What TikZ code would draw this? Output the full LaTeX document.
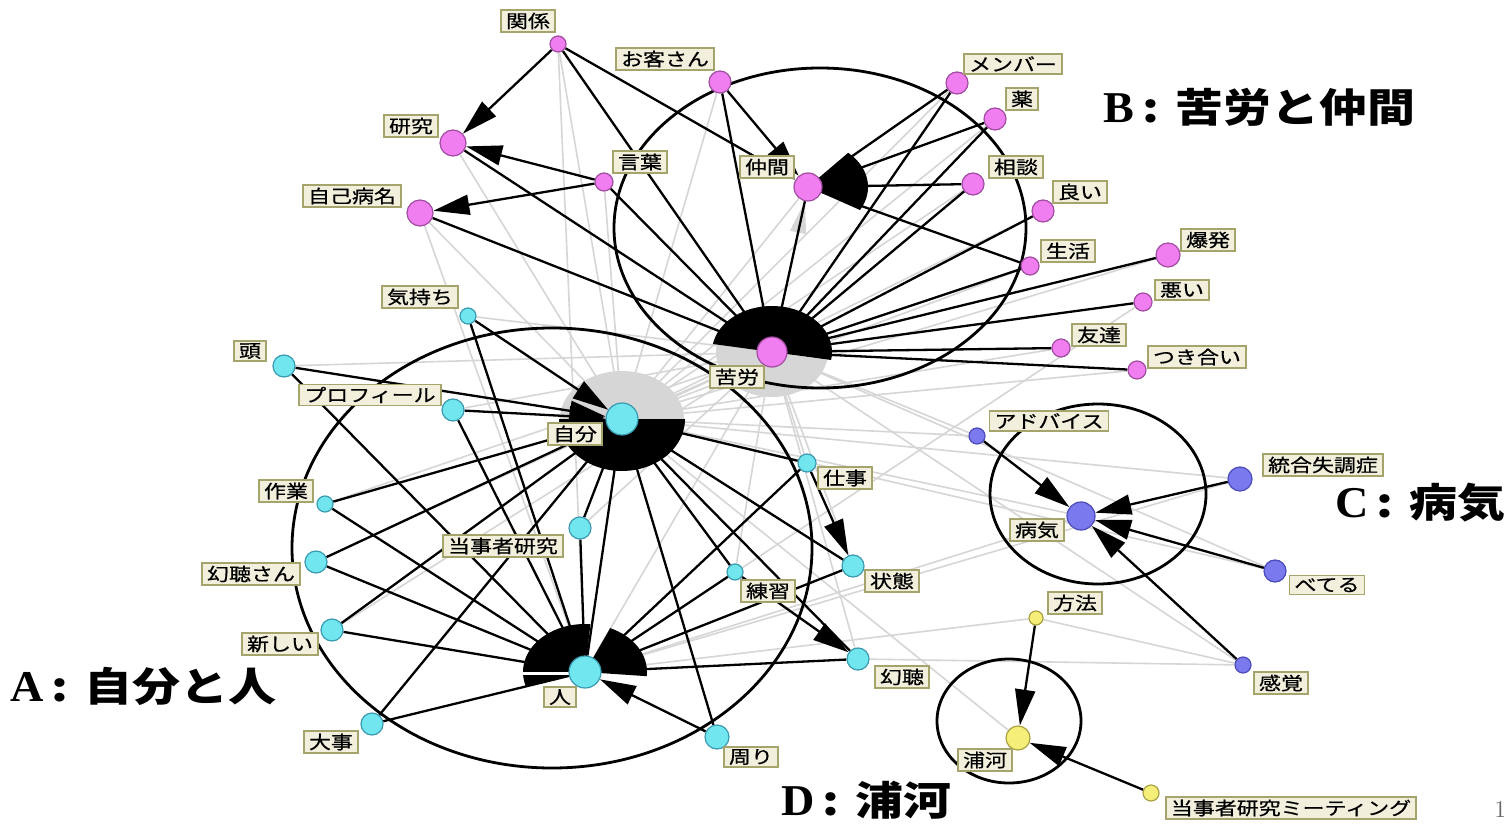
\documentclass[tikz,border=0pt]{standalone}
\usepackage{fontspec}
\usepackage{graphicx}
\usetikzlibrary{arrows.meta,backgrounds}
\newfontfamily\jp{Noto Sans CJK JP}
\newfontfamily\jpm[FakeBold=0.6]{Noto Sans CJK JP}
\newfontfamily\serifb{Liberation Serif}
\definecolor{pkf}{HTML}{F07EF0}
\definecolor{pkd}{HTML}{A04CA0}
\definecolor{cyf}{HTML}{72E6EE}
\definecolor{cyd}{HTML}{3A9AB0}
\definecolor{blf}{HTML}{7A7AEE}
\definecolor{bld}{HTML}{4A4AB8}
\definecolor{yef}{HTML}{F5EE78}
\definecolor{yed}{HTML}{A8A040}
\definecolor{labf}{HTML}{F2F0DC}
\definecolor{labd}{HTML}{A4A46C}
\definecolor{gyc}{HTML}{D6D6D6}
\newcommand\sx[1]{\scalebox{1.22}[1]{#1}}
\newcommand\hd[2]{{\serifb\bfseries\fontsize{22}{22}\selectfont\scalebox{1.05}[1]{#1}}{\jp\bfseries\fontsize{20}{20}\selectfont\scalebox{1.2}[1]{\,:\,\,#2}}}
\newcommand\fan[7]{\fill[#7] (#1,#2) -- plot[domain=#3:#4,samples=40] ({#1+#5*cos(\x)},{#2+#6*sin(\x)}) -- cycle;}
\tikzset{
  pk/.style={circle, fill=pkf, draw=pkd, line width=0.6pt, inner sep=0pt},
  cy/.style={circle, fill=cyf, draw=cyd, line width=0.6pt, inner sep=0pt},
  bl/.style={circle, fill=blf, draw=bld, line width=0.6pt, inner sep=0pt},
  ye/.style={circle, fill=yef, draw=yed, line width=0.6pt, inner sep=0pt},
  lab/.style={fill=labf, draw=labd, line width=0.9pt, inner xsep=2.5pt, inner ysep=1.2pt, font=\jpm\fontsize{9}{10}\selectfont, text=black},
  bk/.style={draw=black, line width=1.15pt},
  bka/.style={bk, -{Triangle[length=18pt,width=10pt]}},
  gy/.style={draw=gyc, line width=0.8pt},
  ring/.style={draw=black, line width=1.4pt},
}
\begin{document}
\begin{tikzpicture}[x=0.5pt,y=-0.5pt]
\useasboundingbox (0,0) rectangle (1507,823);
% nodes
\node[pk, minimum size=8pt]  (kankei) at (558,44) {};
\node[pk, minimum size=11pt] (okyaku) at (720,82) {};
\node[pk, minimum size=13pt] (kenkyu) at (453,143) {};
\node[pk, minimum size=9pt]  (kotoba) at (604,182) {};
\node[pk, minimum size=13pt] (jiko) at (420,213) {};
\node[pk, minimum size=14pt] (nakama) at (808,187) {};
\node[pk, minimum size=11pt] (member) at (957,83) {};
\node[pk, minimum size=11pt] (kusuri) at (995,119) {};
\node[pk, minimum size=11pt] (soudan) at (973,184) {};
\node[pk, minimum size=11pt] (yoi) at (1043,211) {};
\node[pk, minimum size=9pt]  (seikatsu) at (1030,266) {};
\node[pk, minimum size=12pt] (bakuhatsu) at (1168,255) {};
\node[pk, minimum size=9pt]  (warui) at (1143,302) {};
\node[pk, minimum size=9pt]  (tomodachi) at (1061,348) {};
\node[pk, minimum size=9pt]  (tsukiai) at (1137,370) {};
\node[pk, minimum size=15pt] (kurou) at (772,352) {};
\node[cy, minimum size=8pt]  (kimochi) at (468,316) {};
\node[cy, minimum size=11pt] (atama) at (284,366) {};
\node[cy, minimum size=11pt] (profile) at (453,410) {};
\node[cy, minimum size=16pt] (jibun) at (622,419) {};
\node[cy, minimum size=9pt]  (shigoto) at (807,463) {};
\node[cy, minimum size=8pt]  (sagyou) at (325,504) {};
\node[cy, minimum size=11pt] (tojisha) at (580,528) {};
\node[cy, minimum size=11pt] (genchosan) at (316,562) {};
\node[cy, minimum size=11pt] (joutai) at (853,566) {};
\node[cy, minimum size=8pt]  (renshu) at (735,572) {};
\node[cy, minimum size=11pt] (atarashii) at (332,630) {};
\node[cy, minimum size=16pt] (hito) at (585,672) {};
\node[cy, minimum size=11pt] (gencho) at (858,659) {};
\node[cy, minimum size=11pt] (daiji) at (372,724) {};
\node[cy, minimum size=12pt] (mawari) at (717,737) {};
\node[bl, minimum size=8pt]  (advice) at (977,436) {};
\node[bl, minimum size=12pt] (togo) at (1240,479) {};
\node[bl, minimum size=14pt] (byouki) at (1081,516) {};
\node[bl, minimum size=11pt] (beteru) at (1275,571) {};
\node[bl, minimum size=8pt]  (kankaku) at (1243,665) {};
\node[ye, minimum size=7pt]  (houhou) at (1036,618) {};
\node[ye, minimum size=12pt] (urakawa) at (1018,738) {};
\node[ye, minimum size=8pt]  (meeting) at (1151,793) {};

\begin{scope}[on background layer]
\fill[white] (0,0) rectangle (1507,823);
% gray edges
\foreach \a/\b in {kankei/jibun,kankei/hito,kotoba/jibun,kenkyu/jibun,okyaku/jibun,nakama/jibun,member/jibun,kusuri/jibun,soudan/jibun,yoi/jibun,seikatsu/jibun,jiko/jibun,jiko/hito,atama/kurou,kimochi/kurou,profile/kurou,sagyou/kurou,jibun/kurou,hito/kurou,tojisha/kurou,shigoto/kurou,joutai/kurou,renshu/kurou,gencho/kurou,advice/jibun,advice/kurou,togo/jibun,togo/hito,beteru/jibun,beteru/kurou,kankaku/kurou,byouki/jibun,byouki/hito,gencho/kankaku,houhou/hito,houhou/kankaku,urakawa/jibun,tomodachi/jibun,tsukiai/jibun,warui/hito,bakuhatsu/jibun,genchosan/kurou,atarashii/kurou}
  \draw[gy] (\a) -- (\b);
\draw[gy, -{Triangle[length=16pt,width=8pt]}] (kurou) -- (nakama);
% gray fans
\fan{622}{419}{180}{360}{62}{48}{gyc}
\fan{772}{352}{10}{190}{56}{45}{gyc}
% black edges
\foreach \a in {kankei,okyaku,kenkyu,jiko,kotoba,nakama,member,kusuri,soudan,yoi,seikatsu,bakuhatsu,warui,tomodachi,tsukiai}
  \draw[bk] (\a) -- (kurou);
\foreach \a in {member,kusuri,soudan,seikatsu}
  \draw[bk] (\a) -- (nakama);
\foreach \a in {sagyou,genchosan,atarashii,daiji,tojisha,shigoto,joutai,renshu,gencho,mawari,hito}
  \draw[bk] (\a) -- (jibun);
\foreach \a in {atama,kimochi,profile,sagyou,genchosan,atarashii,daiji,tojisha,shigoto,joutai,renshu,gencho}
  \draw[bk] (\a) -- (hito);
\foreach \a/\b in {kankei/kenkyu,kotoba/kenkyu,kotoba/jiko,okyaku/nakama,kankei/nakama,kimochi/jibun,atama/jibun,profile/jibun,shigoto/joutai,renshu/gencho,mawari/hito,advice/byouki,togo/byouki,beteru/byouki,kankaku/byouki,houhou/urakawa,meeting/urakawa}
  \draw[bka] (\a) -- (\b);
% black fans
\fan{772}{352}{190}{370}{60}{46}{black}
\fan{622}{419}{0}{180}{63}{52}{black}
\fan{585}{672}{163}{275}{62}{48}{black}
\fan{585}{672}{294}{365}{62}{48}{black}
\fan{808}{187}{-48}{30}{60}{46}{black}
\draw[white, line width=1.5pt] (570,673) -- (523,673);
% rings
\draw[ring] (552,548) ellipse [x radius=260, y radius=220];
\draw[ring] (820,228) ellipse [x radius=206, y radius=160];
\draw[ring] (1098,494) ellipse [x radius=108, y radius=90];
\draw[ring] (1009,721) ellipse [x radius=72, y radius=62];
\end{scope}

% labels
\node[lab] (l-kankei) at (528,21) {\sx{関係}};
\node[lab] (l-okyaku) at (665,59) {\sx{お客さん}};
\node[lab] (l-kenkyu) at (411,126) {\sx{研究}};
\node[lab] (l-kotoba) at (640,162) {\sx{言葉}};
\node[lab] (l-jiko) at (352,196) {\sx{自己病名}};
\node[lab] (l-nakama) at (767,167) {\sx{仲間}};
\node[lab] (l-member) at (1013,64) {\sx{メンバー}};
\node[lab] (l-kusuri) at (1022,99) {\sx{薬}};
\node[lab] (l-soudan) at (1016,167) {\sx{相談}};
\node[lab] (l-yoi) at (1080,192) {\sx{良い}};
\node[lab] (l-seikatsu) at (1068,251) {\sx{生活}};
\node[lab] (l-bakuhatsu) at (1208,240) {\sx{爆発}};
\node[lab] (l-warui) at (1182,290) {\sx{悪い}};
\node[lab] (l-tomodachi) at (1099,335) {\sx{友達}};
\node[lab] (l-tsukiai) at (1197,357) {\sx{つき合い}};
\node[lab] (l-kurou) at (737,377) {\sx{苦労}};
\node[lab] (l-kimochi) at (420,297) {\sx{気持ち}};
\node[lab] (l-atama) at (250,351) {\sx{頭}};
\node[lab] (l-profile) at (370,395) {\sx{プロフィール}};
\node[lab] (l-jibun) at (575,434) {\sx{自分}};
\node[lab] (l-shigoto) at (845,478) {\sx{仕事}};
\node[lab] (l-sagyou) at (286,491) {\sx{作業}};
\node[lab] (l-tojisha) at (503,546) {\sx{当事者研究}};
\node[lab] (l-genchosan) at (251,574) {\sx{幻聴さん}};
\node[lab] (l-joutai) at (892,581) {\sx{状態}};
\node[lab] (l-renshu) at (768,591) {\sx{練習}};
\node[lab] (l-atarashii) at (280,644) {\sx{新しい}};
\node[lab] (l-hito) at (560,697) {\sx{人}};
\node[lab] (l-gencho) at (902,677) {\sx{幻聴}};
\node[lab] (l-daiji) at (331,742) {\sx{大事}};
\node[lab] (l-mawari) at (751,757) {\sx{周り}};
\node[lab] (l-advice) at (1049,421) {\sx{アドバイス}};
\node[lab] (l-togo) at (1323,465) {\sx{統合失調症}};
\node[lab] (l-byouki) at (1037,530) {\sx{病気}};
\node[lab] (l-beteru) at (1327,585) {\sx{べてる}};
\node[lab] (l-kankaku) at (1281,683) {\sx{感覚}};
\node[lab] (l-houhou) at (1075,603) {\sx{方法}};
\node[lab] (l-urakawa) at (985,760) {\sx{浦河}};
\node[lab] (l-meeting) at (1291,808) {\sx{当事者研究ミーティング}};

% headings
\node[anchor=west, inner sep=0pt] (hB) at (1103,107) {\hd{B}{苦労と仲間}};
\node[anchor=west, inner sep=0pt] (hC) at (1335,503) {\hd{C}{病気}};
\node[anchor=west, inner sep=0pt] (hA) at (10,686) {\hd{A}{自分と人}};
\node[anchor=west, inner sep=0pt] (hD) at (781,800) {\hd{D}{浦河}};
\node[anchor=west, inner sep=0pt, text=black!60, font=\fontsize{12}{12}\selectfont] (pg) at (1494,810) {1};
\end{tikzpicture}
\end{document}
